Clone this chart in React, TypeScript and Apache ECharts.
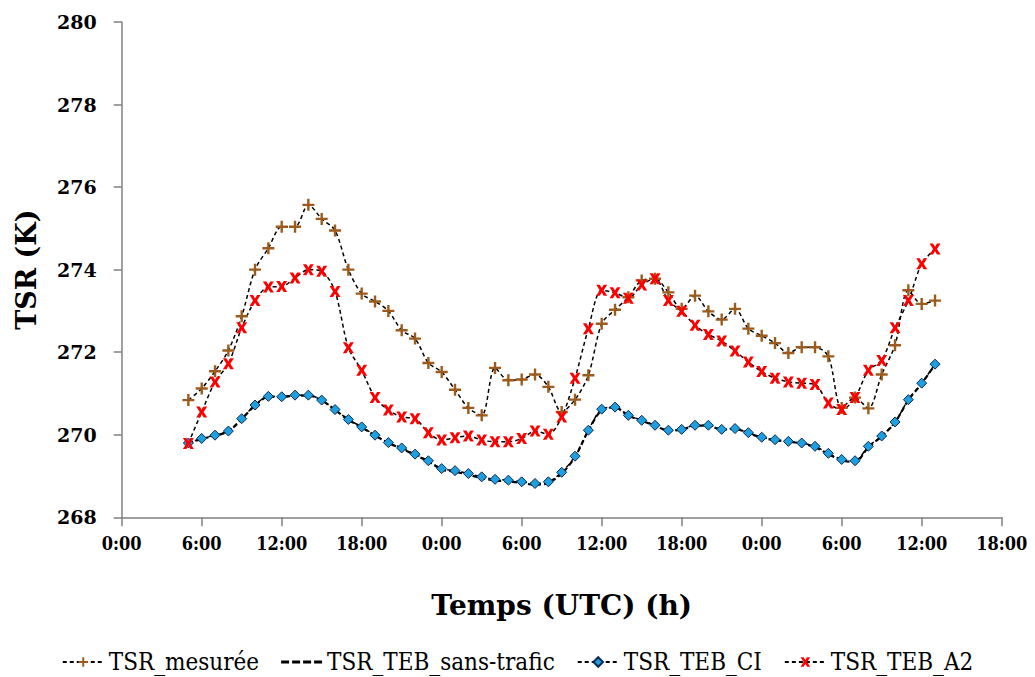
import React, { useEffect, useRef } from "react";
import * as echarts from "echarts";

const hours = [5,6,7,8,9,10,11,12,13,14,15,16,17,18,19,20,21,22,23,24,25,26,27,28,29,30,31,32,33,34,35,36,37,38,39,40,41,42,43,44,45,46,47,48,49,50,51,52,53,54,55,56,57,58,59,60,61];

const mesuree = [270.84,271.12,271.54,272.04,272.87,274.0,274.52,275.04,275.04,275.57,275.23,274.95,274.0,273.42,273.23,273.0,272.53,272.33,271.74,271.52,271.09,270.65,270.47,271.62,271.32,271.34,271.46,271.16,270.55,270.85,271.44,272.69,273.03,273.33,273.74,273.78,273.45,273.05,273.37,272.99,272.79,273.05,272.57,272.4,272.22,271.98,272.12,272.12,271.9,270.65,270.9,270.64,271.46,272.17,273.5,273.17,273.25];

const sansTrafic = [269.8,269.9,269.98,270.08,270.38,270.71,270.92,270.91,270.95,270.95,270.83,270.6,270.36,270.18,269.98,269.8,269.66,269.51,269.35,269.16,269.1,269.03,268.95,268.89,268.87,268.83,268.79,268.83,269.06,269.46,270.1,270.6,270.66,270.46,270.34,270.22,270.1,270.12,270.22,270.22,270.12,270.14,270.04,269.93,269.87,269.83,269.79,269.7,269.53,269.38,269.34,269.7,269.96,270.3,270.84,271.24,271.7];

const ci = [269.8,269.91,269.99,270.09,270.39,270.72,270.93,270.92,270.96,270.96,270.84,270.61,270.37,270.19,269.99,269.81,269.68,269.53,269.37,269.18,269.13,269.06,268.98,268.92,268.9,268.86,268.82,268.86,269.09,269.48,270.11,270.62,270.67,270.47,270.35,270.23,270.11,270.13,270.23,270.23,270.13,270.15,270.05,269.94,269.88,269.84,269.8,269.72,269.55,269.4,269.37,269.72,269.97,270.31,270.85,271.25,271.71];

const a2 = [269.79,270.55,271.28,271.72,272.59,273.25,273.58,273.59,273.8,274.0,273.96,273.47,272.11,271.56,270.9,270.6,270.43,270.39,270.05,269.87,269.93,269.97,269.87,269.83,269.83,269.91,270.09,270.01,270.43,271.37,272.57,273.5,273.44,273.31,273.63,273.78,273.25,272.99,272.65,272.43,272.27,272.03,271.76,271.53,271.37,271.28,271.25,271.22,270.77,270.61,270.9,271.56,271.8,272.59,273.25,274.14,274.5];

const xTickHours = [0, 6, 12, 18];
const seriesNames = ["TSR_mesurée", "TSR_TEB_sans-trafic", "TSR_TEB_CI", "TSR_TEB_A2"];

const pair = (vals: number[]) => hours.map((h, i) => [h, vals[i]]);

const PLUS = "path://M4,0 H6 V4 H10 V6 H6 V10 H4 V6 H0 V4 H4 Z";
const CROSS = "path://M0,0 L3.2,0 L5,3 L6.8,0 L10,0 L6.8,5 L10,10 L6.8,10 L5,7 L3.2,10 L0,10 L3.2,5 Z";
const DASHES = "path://M0,0 H8 V3 H0 Z M11,0 H19 V3 H11 Z M22,0 H30 V3 H22 Z M33,0 H41 V3 H33 Z";

const SERIF = "DejaVu Serif";
const COND = "DejaVu Serif Condensed";

export default function App() {
  const ref = useRef<HTMLDivElement>(null);
  useEffect(() => {
    if (!ref.current) return;
    const chart = echarts.init(ref.current, undefined, { renderer: "svg" });
    const dashed = { color: "#000", width: 1.5, type: [4, 3] as any };
    chart.setOption({
      animation: false,
      backgroundColor: "#fff",
      textStyle: { fontFamily: SERIF },
      grid: { left: 121.7, right: 33.3, top: 22, bottom: 159.7, containLabel: false },
      xAxis: {
        type: "value",
        min: 0,
        max: 66,
        interval: 6,
        name: "Temps (UTC) (h)",
        nameLocation: "middle",
        nameGap: 74,
        nameTextStyle: { fontFamily: SERIF, fontSize: 28, fontWeight: "bold", color: "#000" },
        axisLine: { show: true, lineStyle: { color: "#808080", width: 1.5 } },
        axisTick: { show: true, length: 9, lineStyle: { color: "#808080", width: 1.5 } },
        splitLine: { show: false },
        axisLabel: {
          margin: 17,
          fontFamily: COND,
          fontSize: 18,
          fontWeight: "bold",
          color: "#000",
          formatter: (v: number) => xTickHours[(v % 24) / 6] + ":00",
        },
      },
      yAxis: {
        type: "value",
        min: 268,
        max: 280,
        interval: 2,
        name: "TSR (K)",
        nameLocation: "middle",
        nameGap: 82,
        nameRotate: 90,
        nameTextStyle: { fontFamily: SERIF, fontSize: 27, fontWeight: "bold", color: "#000" },
        axisLine: { show: true, lineStyle: { color: "#808080", width: 1.5 } },
        axisTick: { show: true, length: 8, lineStyle: { color: "#808080", width: 1.5 } },
        splitLine: { show: false },
        axisLabel: {
          margin: 25,
          fontFamily: SERIF,
          fontSize: 19,
          fontWeight: "bold",
          color: "#000",
        },
      },
      legend: {
        top: 645,
        left: "center",
        itemWidth: 41,
        itemHeight: 12,
        itemGap: 22,
        textStyle: { fontFamily: COND, fontSize: 24, color: "#000" },
        data: [
          { name: seriesNames[0] },
          { name: seriesNames[1], icon: DASHES, itemStyle: { color: "#000" } },
          { name: seriesNames[2] },
          { name: seriesNames[3] },
        ],
      },
      series: [
        {
          name: seriesNames[0],
          type: "line",
          smooth: 0.3,
          data: pair(mesuree),
          symbol: PLUS,
          symbolSize: 12,
          itemStyle: { color: "#9C5B1C" },
          lineStyle: dashed,
        },
        {
          name: seriesNames[1],
          type: "line",
          smooth: 0.3,
          data: pair(sansTrafic),
          symbol: "none",
          itemStyle: { color: "#000" },
          lineStyle: { color: "#000", width: 2.2, type: [5, 3] as any },
        },
        {
          name: seriesNames[2],
          type: "line",
          smooth: 0.3,
          data: pair(ci),
          symbol: "diamond",
          symbolSize: 10,
          itemStyle: { color: "#1E9FE0", borderColor: "#0B2A55", borderWidth: 1 },
          lineStyle: dashed,
        },
        {
          name: seriesNames[3],
          type: "line",
          smooth: 0.3,
          data: pair(a2),
          symbol: CROSS,
          symbolSize: 11,
          itemStyle: { color: "#FF0000" },
          lineStyle: dashed,
        },
      ],
    });
    return () => chart.dispose();
  }, []);
  return (
    <div
      ref={ref}
      style={{ position: "absolute", left: 0, top: 0, width: 1035, height: 677 }}
    />
  );
}
